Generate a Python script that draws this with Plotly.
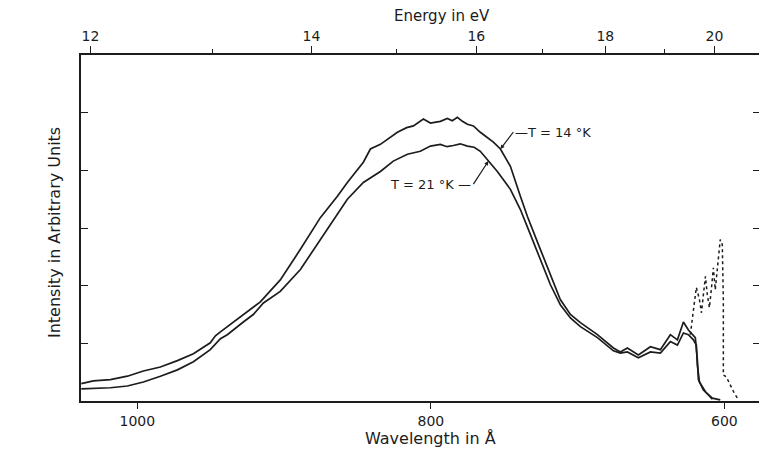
import plotly.graph_objects as go

# Emission spectrum of solid hydrogen at two temperatures.
# Wavelength in angstrom, intensity in arbitrary units.
T14_WL = [1038.2, 1030.0, 1018.4, 1006.8, 995.9, 984.3, 972.7, 961.8, 950.3, 946.8,
          943.4, 938.7, 927.8, 916.2, 902.6, 888.9, 875.3, 863.7, 856.9, 846.0,
          841.2, 834.4, 822.8, 816.5, 811.9, 808.5, 805.1, 800.3, 793.5, 788.8,
          785.4, 781.9, 778.5, 775.1, 771.0, 766.3, 757.4, 752.6, 745.8, 739.0,
          734.2, 725.4, 718.6, 711.8, 704.9, 698.1, 686.5, 675.6, 670.9, 666.1,
          658.6, 650.4, 643.6, 636.8, 632.0, 627.9, 624.5, 621.8, 619.8, 618.4,
          617.7, 614.3, 608.2, 602.8]
T14_I = [0.30, 0.35, 0.37, 0.43, 0.52, 0.59, 0.70, 0.82, 1.01, 1.13,
         1.20, 1.29, 1.50, 1.72, 2.10, 2.63, 3.18, 3.55, 3.79, 4.14,
         4.37, 4.45, 4.66, 4.74, 4.77, 4.83, 4.89, 4.82, 4.85, 4.90,
         4.86, 4.92, 4.85, 4.80, 4.77, 4.66, 4.49, 4.37, 4.07, 3.55,
         3.20, 2.63, 2.19, 1.76, 1.50, 1.36, 1.15, 0.92, 0.85, 0.92,
         0.80, 0.94, 0.89, 1.15, 1.06, 1.37, 1.23, 1.15, 1.10, 0.71,
         0.37, 0.19, 0.05, 0.02]

T21_WL = [1038.2, 1018.4, 1006.8, 995.9, 984.3, 972.7, 961.8, 950.3, 943.4, 938.7,
          927.8, 921.0, 914.1, 902.6, 888.9, 875.3, 866.4, 856.9, 846.0, 834.4,
          825.6, 816.0, 807.2, 800.3, 793.5, 789.0, 784.7, 780.0, 775.1, 770.5,
          766.3, 760.8, 754.7, 745.8, 739.0, 732.2, 725.4, 718.6, 711.8, 704.9,
          698.1, 686.5, 675.6, 670.9, 666.1, 658.6, 650.4, 643.6, 636.8, 632.0,
          627.9, 624.5, 621.1, 619.1, 618.4, 617.0, 612.9, 608.2]
T21_I = [0.21, 0.23, 0.26, 0.33, 0.43, 0.54, 0.68, 0.89, 1.08, 1.15,
         1.37, 1.50, 1.70, 1.90, 2.28, 2.80, 3.15, 3.50, 3.79, 3.98,
         4.16, 4.28, 4.33, 4.42, 4.45, 4.41, 4.43, 4.46, 4.42, 4.40,
         4.33, 4.16, 3.98, 3.67, 3.32, 2.89, 2.45, 2.02, 1.67, 1.44,
         1.29, 1.10, 0.87, 0.83, 0.85, 0.75, 0.85, 0.83, 1.03, 0.97,
         1.18, 1.15, 1.06, 0.97, 0.63, 0.33, 0.16, 0.03]

# Short-wavelength structure (dotted)
EDGE_WL = [623.2, 620.5, 619.1, 617.0, 615.6, 614.3, 612.9, 611.6, 610.2, 608.9,
           607.5, 606.2, 605.5, 604.1, 602.8, 601.4, 600.7, 600.7, 598.7, 596.0,
           593.3, 590.6]
EDGE_I = [1.15, 1.76, 1.97, 1.76, 1.53, 1.84, 2.16, 1.84, 1.62, 1.93,
          2.31, 1.93, 2.10, 2.54, 2.80, 2.71, 1.76, 0.45, 0.42, 0.28,
          0.14, 0.03]

WL_TICKS = [1000, 800, 600]
ENERGY_LABELS = ["12", "14", "16", "18", "20"]

# Energy scale drawn on the wavelength axis (positions in angstrom)
ENERGY_MAJOR_WL = [1032.0, 881.4, 769.0, 681.1, 606.8]
ENERGY_MINOR_WL = [948.9, 823.5, 724.0, 640.9]

INK = "#1c1c1c"
FONT = "DejaVu Sans"
X_RANGE = [1038.4, 576.4]
Y_RANGE = [0, 6]

fig = go.Figure()
fig.add_trace(go.Scatter(x=T21_WL, y=T21_I, mode="lines",
                         line=dict(color=INK, width=1.7), name="T = 21 °K"))
fig.add_trace(go.Scatter(x=T14_WL, y=T14_I, mode="lines",
                         line=dict(color=INK, width=1.7), name="T = 14 °K"))
fig.add_trace(go.Scatter(x=EDGE_WL, y=EDGE_I, mode="lines",
                         line=dict(color=INK, width=1.5, dash="dot"), name="edge"))
# carrier for the top and right axes
fig.add_trace(go.Scatter(x=[], y=[], xaxis="x2", yaxis="y2", showlegend=False))

i14 = T14_WL.index(752.6)
i21 = T21_WL.index(760.8)

fig.update_layout(
    width=759, height=456,
    margin=dict(l=81, r=0, t=55, b=55),
    paper_bgcolor="white", plot_bgcolor="white",
    showlegend=False,
    font=dict(family=FONT, size=14, color=INK),
    xaxis=dict(range=X_RANGE, tickvals=WL_TICKS, ticks="outside", ticklen=6,
               tickwidth=1.3, tickcolor=INK, showline=True, linecolor=INK,
               linewidth=1.6, showgrid=False, zeroline=False,
               tickfont=dict(family=FONT, size=14, color=INK)),
    xaxis2=dict(overlaying="x", side="top", anchor="y", range=X_RANGE,
                tickvals=ENERGY_MAJOR_WL, ticktext=ENERGY_LABELS,
                ticks="outside", ticklen=7, tickwidth=1.3, tickcolor=INK,
                showline=True, linecolor=INK, linewidth=1.6,
                showgrid=False, zeroline=False,
                minor=dict(tickvals=ENERGY_MINOR_WL, ticks="outside", ticklen=4,
                           tickwidth=1.3, tickcolor=INK, showgrid=False),
                tickfont=dict(family=FONT, size=14, color=INK)),
    yaxis=dict(range=Y_RANGE, tickvals=[1, 2, 3, 4, 5], ticks="inside", ticklen=7,
               tickwidth=1.3, tickcolor=INK, showticklabels=False,
               showline=True, linecolor=INK, linewidth=1.6,
               showgrid=False, zeroline=False),
    yaxis2=dict(overlaying="y", side="right", anchor="x", range=Y_RANGE,
                tickvals=[1, 2, 3, 4, 5], ticks="inside", ticklen=6,
                tickwidth=1.3, tickcolor=INK, showticklabels=False,
                showline=False, showgrid=False, zeroline=False),
    annotations=[
        dict(text="Energy in eV", xref="paper", yref="paper", x=0.532, y=1.112,
             xanchor="center", yanchor="middle", showarrow=False,
             font=dict(family=FONT, size=15, color=INK)),
        dict(text="Wavelength in Å", xref="paper", yref="paper", x=0.515, y=-0.107,
             xanchor="center", yanchor="middle", showarrow=False,
             font=dict(family=FONT, size=16, color=INK)),
        dict(text="Intensity in Arbitrary Units", xref="paper", yref="paper",
             x=-0.040, y=0.488, textangle=-90, xanchor="center", yanchor="middle",
             showarrow=False, font=dict(family=FONT, size=16, color=INK)),
        dict(text="—T = 14 °K", x=T14_WL[i14], y=T14_I[i14], xref="x", yref="y",
             ax=13, ay=-17, xanchor="left", yanchor="middle", showarrow=True,
             arrowhead=2, arrowsize=0.7, arrowwidth=1.2, arrowcolor=INK,
             font=dict(family=FONT, size=13, color=INK)),
        dict(text="T = 21 °K —", x=T21_WL[i21], y=T21_I[i21], xref="x", yref="y",
             ax=-15, ay=23, xanchor="right", yanchor="middle", showarrow=True,
             arrowhead=2, arrowsize=0.7, arrowwidth=1.2, arrowcolor=INK,
             font=dict(family=FONT, size=13, color=INK)),
    ],
)

fig.write_html("out.html")
